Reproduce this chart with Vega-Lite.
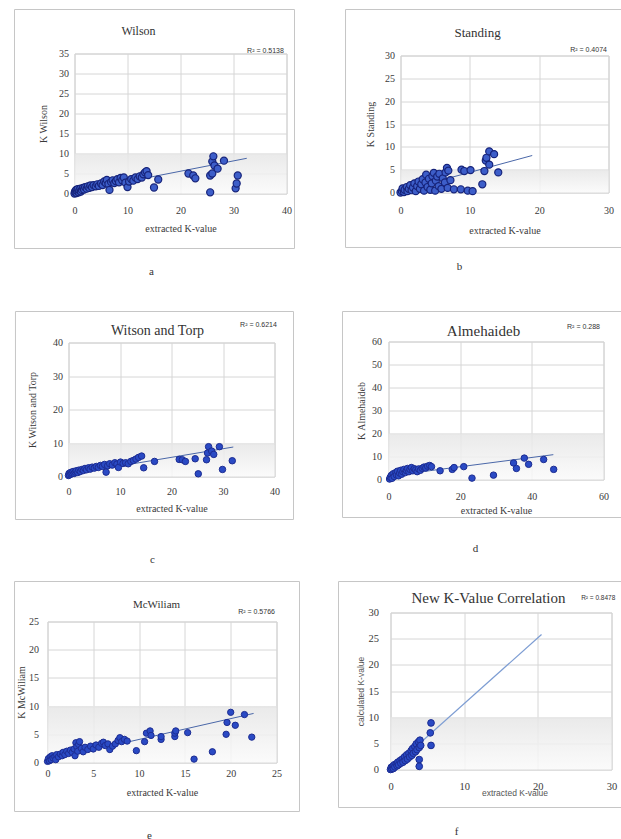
{
"$schema": "https://vega.github.io/schema/vega-lite/v6.json",
"padding": {"left": 12.5, "top": 7.5, "right": 0, "bottom": 0},
"background": "white",
"config": {
 "font": "Liberation Serif",
 "view": {"stroke": "#cfcfcf"},
 "axis": {"grid": true, "gridColor": "#d6d6d6", "gridWidth": 1, "domain": false, "ticks": false, "labelOverlap": false, "labelFont": "Liberation Serif", "labelFontSize": 10, "labelColor": "#3a3a3a", "labelFlush": false, "titleFont": "Liberation Serif", "titleFontSize": 10, "titleFontWeight": "normal", "titleColor": "#3a3a3a"}
},
"datasets": {
 "pa": [{"x":0,"y":0},{"x":0.1,"y":0.5},{"x":0.2,"y":0.2},{"x":0.3,"y":0.9},{"x":0.4,"y":0.1},{"x":0.5,"y":0.6},{"x":0.6,"y":1.1},{"x":0.8,"y":0.3},{"x":0.9,"y":0.8},{"x":1.1,"y":1.2},{"x":1.2,"y":0.5},{"x":1.4,"y":0.9},{"x":1.6,"y":1.4},{"x":1.8,"y":1.0},{"x":2.0,"y":1.6},{"x":2.3,"y":1.2},{"x":2.5,"y":1.8},{"x":2.8,"y":1.4},{"x":3.0,"y":2.0},{"x":3.3,"y":1.6},{"x":3.6,"y":2.1},{"x":4.0,"y":1.8},{"x":4.3,"y":2.3},{"x":4.6,"y":1.9},{"x":5.0,"y":2.5},{"x":5.3,"y":2.1},{"x":5.6,"y":3.0},{"x":5.9,"y":2.6},{"x":6.1,"y":3.4},{"x":6.4,"y":2.4},{"x":6.6,"y":0.9},{"x":6.9,"y":2.9},{"x":7.2,"y":3.3},{"x":7.5,"y":2.6},{"x":7.8,"y":3.1},{"x":8.1,"y":3.6},{"x":8.4,"y":2.8},{"x":8.7,"y":3.9},{"x":9.0,"y":3.3},{"x":9.3,"y":4.0},{"x":9.6,"y":2.7},{"x":10.0,"y":1.6},{"x":10.3,"y":3.0},{"x":10.7,"y":3.6},{"x":11.1,"y":3.2},{"x":11.5,"y":4.0},{"x":11.9,"y":3.6},{"x":12.3,"y":4.3},{"x":12.7,"y":4.0},{"x":13.0,"y":4.8},{"x":13.3,"y":5.3},{"x":13.6,"y":5.6},{"x":13.9,"y":4.6},{"x":15.0,"y":1.5},{"x":15.8,"y":3.5},{"x":21.5,"y":5.0},{"x":22.4,"y":4.5},{"x":22.8,"y":3.8},{"x":25.6,"y":0.3},{"x":25.6,"y":4.5},{"x":26.0,"y":5.0},{"x":26.0,"y":8.0},{"x":26.2,"y":9.3},{"x":26.4,"y":7.0},{"x":27.0,"y":6.2},{"x":28.2,"y":8.2},{"x":30.4,"y":1.3},{"x":30.6,"y":2.5},{"x":30.8,"y":4.5}],
 "pb": [{"x":0,"y":0},{"x":0.2,"y":0.3},{"x":0.3,"y":0.9},{"x":0.5,"y":0.1},{"x":0.6,"y":0.6},{"x":0.9,"y":1.2},{"x":1.0,"y":0.3},{"x":1.2,"y":0.8},{"x":1.4,"y":1.6},{"x":1.6,"y":0.5},{"x":1.8,"y":1.1},{"x":2.0,"y":2.0},{"x":2.2,"y":0.3},{"x":2.4,"y":1.4},{"x":2.6,"y":2.4},{"x":2.8,"y":0.8},{"x":3.0,"y":1.8},{"x":3.2,"y":2.9},{"x":3.4,"y":0.4},{"x":3.6,"y":2.2},{"x":3.7,"y":3.9},{"x":3.9,"y":1.2},{"x":4.1,"y":3.0},{"x":4.3,"y":0.6},{"x":4.5,"y":2.0},{"x":4.6,"y":3.6},{"x":4.8,"y":4.3},{"x":5.0,"y":0.4},{"x":5.1,"y":2.6},{"x":5.3,"y":3.5},{"x":5.5,"y":1.4},{"x":5.6,"y":4.1},{"x":5.9,"y":0.8},{"x":6.1,"y":3.1},{"x":6.4,"y":2.2},{"x":6.5,"y":4.4},{"x":6.7,"y":5.4},{"x":6.8,"y":1.0},{"x":6.9,"y":4.8},{"x":7.2,"y":2.7},{"x":7.7,"y":0.7},{"x":8.7,"y":0.7},{"x":8.8,"y":5.0},{"x":9.2,"y":4.7},{"x":9.7,"y":0.4},{"x":10.1,"y":4.9},{"x":10.4,"y":0.3},{"x":11.8,"y":1.8},{"x":12.1,"y":4.7},{"x":12.3,"y":7.0},{"x":12.4,"y":7.6},{"x":12.8,"y":6.1},{"x":12.8,"y":9.0},{"x":13.5,"y":8.4},{"x":14.1,"y":4.4}],
 "pc": [{"x":0,"y":0.3},{"x":0.1,"y":0.9},{"x":0.2,"y":0.5},{"x":0.4,"y":1.2},{"x":0.5,"y":0.7},{"x":0.7,"y":1.0},{"x":0.9,"y":1.5},{"x":1.1,"y":0.9},{"x":1.3,"y":1.3},{"x":1.5,"y":1.7},{"x":1.8,"y":1.2},{"x":2.0,"y":1.9},{"x":2.3,"y":1.5},{"x":2.6,"y":2.1},{"x":2.9,"y":1.8},{"x":3.2,"y":2.4},{"x":3.5,"y":2.0},{"x":3.9,"y":2.6},{"x":4.2,"y":2.2},{"x":4.6,"y":2.8},{"x":5.0,"y":2.5},{"x":5.4,"y":3.0},{"x":5.8,"y":2.7},{"x":6.2,"y":3.3},{"x":6.6,"y":3.0},{"x":7.0,"y":3.6},{"x":7.3,"y":1.3},{"x":7.6,"y":3.2},{"x":8.0,"y":3.8},{"x":8.5,"y":3.4},{"x":9.0,"y":4.1},{"x":9.4,"y":3.7},{"x":9.7,"y":2.7},{"x":10.1,"y":4.3},{"x":10.6,"y":3.9},{"x":11.1,"y":4.1},{"x":11.6,"y":3.8},{"x":12.1,"y":4.5},{"x":12.6,"y":4.8},{"x":13.1,"y":5.2},{"x":13.6,"y":5.7},{"x":14.2,"y":6.1},{"x":14.6,"y":2.6},{"x":16.7,"y":4.5},{"x":21.5,"y":5.1},{"x":22.1,"y":5.0},{"x":22.7,"y":4.5},{"x":24.6,"y":5.3},{"x":25.2,"y":0.8},{"x":26.8,"y":5.0},{"x":27.0,"y":7.0},{"x":27.2,"y":8.9},{"x":27.8,"y":7.6},{"x":28.2,"y":6.6},{"x":29.3,"y":8.9},{"x":29.9,"y":2.1},{"x":31.8,"y":4.7}],
 "pd": [{"x":0.3,"y":0.2},{"x":0.5,"y":1.0},{"x":0.8,"y":1.8},{"x":1.0,"y":0.5},{"x":1.3,"y":2.5},{"x":1.6,"y":1.3},{"x":2.0,"y":3.0},{"x":2.2,"y":2.0},{"x":2.5,"y":3.6},{"x":2.8,"y":1.6},{"x":3.1,"y":2.8},{"x":3.4,"y":4.0},{"x":3.7,"y":2.3},{"x":4.0,"y":3.4},{"x":4.3,"y":4.4},{"x":4.7,"y":3.0},{"x":5.0,"y":3.9},{"x":5.3,"y":4.8},{"x":5.7,"y":3.4},{"x":6.0,"y":4.4},{"x":6.4,"y":5.2},{"x":6.8,"y":3.8},{"x":7.2,"y":4.7},{"x":7.6,"y":4.2},{"x":8.0,"y":3.4},{"x":8.4,"y":4.6},{"x":8.9,"y":4.0},{"x":9.4,"y":4.9},{"x":9.9,"y":5.4},{"x":10.4,"y":5.0},{"x":10.9,"y":5.8},{"x":11.5,"y":6.1},{"x":12.0,"y":5.6},{"x":14.4,"y":3.8},{"x":17.8,"y":4.4},{"x":18.3,"y":5.2},{"x":21.0,"y":5.6},{"x":23.3,"y":0.6},{"x":29.3,"y":1.9},{"x":34.9,"y":7.2},{"x":35.7,"y":4.8},{"x":37.9,"y":9.3},{"x":39.1,"y":6.6},{"x":43.3,"y":8.7},{"x":46.1,"y":4.4}],
 "pe": [{"x":0,"y":0.2},{"x":0.1,"y":0.7},{"x":0.2,"y":0.3},{"x":0.3,"y":1.0},{"x":0.4,"y":0.5},{"x":0.5,"y":1.2},{"x":0.6,"y":0.8},{"x":0.8,"y":1.0},{"x":0.9,"y":0.5},{"x":1.0,"y":1.4},{"x":1.2,"y":1.0},{"x":1.4,"y":1.5},{"x":1.6,"y":1.2},{"x":1.7,"y":1.8},{"x":1.9,"y":1.4},{"x":2.1,"y":2.0},{"x":2.3,"y":1.6},{"x":2.5,"y":2.2},{"x":2.7,"y":1.8},{"x":2.9,"y":2.4},{"x":3.0,"y":1.2},{"x":3.1,"y":3.5},{"x":3.2,"y":2.8},{"x":3.3,"y":2.0},{"x":3.4,"y":3.2},{"x":3.5,"y":3.7},{"x":3.7,"y":2.5},{"x":3.9,"y":1.9},{"x":4.1,"y":2.7},{"x":4.4,"y":2.3},{"x":4.7,"y":2.9},{"x":5.0,"y":2.4},{"x":5.3,"y":3.1},{"x":5.6,"y":2.7},{"x":5.9,"y":3.4},{"x":6.1,"y":3.6},{"x":6.3,"y":3.0},{"x":6.6,"y":3.3},{"x":6.8,"y":2.3},{"x":7.1,"y":2.9},{"x":7.4,"y":3.3},{"x":7.7,"y":3.9},{"x":7.9,"y":4.4},{"x":8.1,"y":3.7},{"x":8.4,"y":4.1},{"x":8.7,"y":3.8},{"x":9.7,"y":2.1},{"x":10.6,"y":3.7},{"x":10.8,"y":5.2},{"x":11.2,"y":5.6},{"x":11.3,"y":4.8},{"x":12.4,"y":4.1},{"x":12.4,"y":4.6},{"x":13.9,"y":4.6},{"x":13.9,"y":5.2},{"x":14.0,"y":5.6},{"x":15.3,"y":5.3},{"x":16.0,"y":0.6},{"x":18.0,"y":1.9},{"x":19.5,"y":5.0},{"x":19.6,"y":7.1},{"x":20.0,"y":8.9},{"x":20.5,"y":6.6},{"x":21.5,"y":8.5},{"x":22.3,"y":4.5}],
 "pf": [{"x":0,"y":0},{"x":0.1,"y":0.4},{"x":0.2,"y":0.1},{"x":0.3,"y":0.6},{"x":0.4,"y":0.2},{"x":0.5,"y":0.9},{"x":0.6,"y":0.5},{"x":0.8,"y":1.1},{"x":0.9,"y":0.7},{"x":1.0,"y":1.4},{"x":1.1,"y":0.9},{"x":1.3,"y":1.7},{"x":1.4,"y":1.2},{"x":1.6,"y":2.0},{"x":1.7,"y":1.4},{"x":1.9,"y":2.4},{"x":2.0,"y":1.7},{"x":2.2,"y":2.8},{"x":2.3,"y":2.0},{"x":2.5,"y":3.1},{"x":2.6,"y":2.4},{"x":2.8,"y":3.6},{"x":2.9,"y":2.7},{"x":3.0,"y":4.0},{"x":3.1,"y":3.1},{"x":3.3,"y":4.4},{"x":3.4,"y":3.4},{"x":3.5,"y":4.9},{"x":3.6,"y":3.8},{"x":3.8,"y":5.3},{"x":3.9,"y":4.2},{"x":4.0,"y":5.6},{"x":4.1,"y":4.6},{"x":3.9,"y":1.9},{"x":3.9,"y":0.6},{"x":5.5,"y":4.6},{"x":5.4,"y":7.0},{"x":5.5,"y":8.9}],
 "ta": [{"x":0,"y":0.4},{"x":32.5,"y":8.8}],
 "tb": [{"x":0,"y":0.3},{"x":19,"y":8.1}],
 "tc": [{"x":0,"y":0.6},{"x":32,"y":8.8}],
 "td": [{"x":0,"y":1.5},{"x":46,"y":10.8}],
 "te": [{"x":0,"y":0.4},{"x":22.5,"y":8.7}],
 "tf": [{"x":0,"y":0},{"x":20.5,"y":25.8}],
 "none": []
},
"spacing": 32,
"vconcat": [
{"spacing": 47, "hconcat": [
 {"spacing": 0, "hconcat": [
  {"width": 1, "height": 1, "view": {"stroke": null}, "data": {"name": "none"}, "mark": "rect"},
  {"spacing": 0, "vconcat": [
   {"width": 1, "height": 1, "view": {"stroke": null}, "data": {"name": "none"}, "mark": "rect"},
   {"width": 212, "height": 140, "layer": [
    {"data": {"values": [{}]}, "mark": {"type": "rect", "opacity": 0.85, "fill": {"gradient": "linear", "x1": 0, "y1": 0, "x2": 0, "y2": 1, "stops": [{"offset": 0, "color": "#e6e6e6"}, {"offset": 1, "color": "#fafafa"}]}},
     "encoding": {"x": {"datum": 0, "type": "quantitative", "scale": {"domain": [0,40], "nice": false}, "axis": {"values": [0,10,20,30,40], "title": "extracted K-value", "labelPadding": 12, "titlePadding": 8}}, "x2": {"datum": 40},
                  "y": {"datum": 0, "type": "quantitative", "scale": {"domain": [0,35], "nice": false}, "axis": {"values": [0,5,10,15,20,25,30,35], "title": "K Wilson", "labelPadding": 6, "titlePadding": 10}}, "y2": {"datum": 10}}},
    {"data": {"values": [{}]}, "mark": {"type": "rect", "filled": false, "stroke": "#c6c6c6", "strokeWidth": 1},
     "encoding": {"x": {"datum": -11.32, "type": "quantitative", "scale": {"domain": [0,40], "nice": false}, "axis": {"values": [0,10,20,30,40], "title": "extracted K-value", "labelPadding": 12, "titlePadding": 8}}, "x2": {"datum": 41.51},
                  "y": {"datum": 46, "type": "quantitative", "scale": {"domain": [0,35], "nice": false}, "axis": {"values": [0,5,10,15,20,25,30,35], "title": "K Wilson", "labelPadding": 6, "titlePadding": 10}}, "y2": {"datum": -13.75}}},
    {"data": {"name": "ta"}, "mark": {"type": "line", "color": "#4a67a8", "strokeWidth": 1},
     "encoding": {"x": {"field": "x", "type": "quantitative", "scale": {"domain": [0,40], "nice": false}, "axis": {"values": [0,10,20,30,40], "title": "extracted K-value", "labelPadding": 12, "titlePadding": 8}},
                  "y": {"field": "y", "type": "quantitative", "scale": {"domain": [0,35], "nice": false}, "axis": {"values": [0,5,10,15,20,25,30,35], "title": "K Wilson", "labelPadding": 6, "titlePadding": 10}}}},
    {"data": {"name": "pa"}, "mark": {"type": "circle", "size": 50, "opacity": 1, "fill": "#3d5ec9", "stroke": "#16237a", "strokeWidth": 1.2},
     "encoding": {"x": {"field": "x", "type": "quantitative", "scale": {"domain": [0,40], "nice": false}, "axis": {"values": [0,10,20,30,40], "title": "extracted K-value", "labelPadding": 12, "titlePadding": 8}},
                  "y": {"field": "y", "type": "quantitative", "scale": {"domain": [0,35], "nice": false}, "axis": {"values": [0,5,10,15,20,25,30,35], "title": "K Wilson", "labelPadding": 6, "titlePadding": 10}}}},
    {"data": {"values": [{}]}, "mark": {"type": "text", "text": "Wilson", "font": "Liberation Serif", "fontSize": 12, "color": "#333333", "baseline": "middle", "align": "center"},
     "encoding": {"x": {"datum": 12.08, "type": "quantitative", "scale": {"domain": [0,40], "nice": false}, "axis": {"values": [0,10,20,30,40], "title": "extracted K-value", "labelPadding": 12, "titlePadding": 8}},
                  "y": {"datum": 40.75, "type": "quantitative", "scale": {"domain": [0,35], "nice": false}, "axis": {"values": [0,5,10,15,20,25,30,35], "title": "K Wilson", "labelPadding": 6, "titlePadding": 10}}}},
    {"data": {"values": [{}]}, "mark": {"type": "text", "text": "R² = 0.5138", "font": "Liberation Sans", "fontSize": 7, "color": "#333333", "baseline": "middle", "align": "center"},
     "encoding": {"x": {"datum": 36.04, "type": "quantitative", "scale": {"domain": [0,40], "nice": false}, "axis": {"values": [0,10,20,30,40], "title": "extracted K-value", "labelPadding": 12, "titlePadding": 8}},
                  "y": {"datum": 35.75, "type": "quantitative", "scale": {"domain": [0,35], "nice": false}, "axis": {"values": [0,5,10,15,20,25,30,35], "title": "K Wilson", "labelPadding": 6, "titlePadding": 10}}}},
    {"data": {"values": [{}]}, "mark": {"type": "text", "text": "a", "font": "Liberation Serif", "fontSize": 11, "color": "#333333", "baseline": "middle", "align": "center"},
     "encoding": {"x": {"datum": 14.53, "type": "quantitative", "scale": {"domain": [0,40], "nice": false}, "axis": {"values": [0,10,20,30,40], "title": "extracted K-value", "labelPadding": 12, "titlePadding": 8}},
                  "y": {"datum": -19.5, "type": "quantitative", "scale": {"domain": [0,35], "nice": false}, "axis": {"values": [0,5,10,15,20,25,30,35], "title": "K Wilson", "labelPadding": 6, "titlePadding": 10}}}}
   ]}
  ]}
 ]},
 {"spacing": 0, "hconcat": [
  {"width": 1, "height": 1, "view": {"stroke": null}, "data": {"name": "none"}, "mark": "rect"},
  {"spacing": 0, "vconcat": [
   {"width": 1, "height": 1, "view": {"stroke": null}, "data": {"name": "none"}, "mark": "rect"},
   {"width": 208, "height": 137, "layer": [
    {"data": {"values": [{}]}, "mark": {"type": "rect", "opacity": 0.85, "fill": {"gradient": "linear", "x1": 0, "y1": 0, "x2": 0, "y2": 1, "stops": [{"offset": 0, "color": "#e6e6e6"}, {"offset": 1, "color": "#fafafa"}]}},
     "encoding": {"x": {"datum": 0, "type": "quantitative", "scale": {"domain": [0,30], "nice": false}, "axis": {"values": [0,10,20,30], "title": "extracted K-value", "labelPadding": 13, "titlePadding": 10}}, "x2": {"datum": 30},
                  "y": {"datum": 0, "type": "quantitative", "scale": {"domain": [0,30], "nice": false}, "axis": {"values": [0,5,10,15,20,25,30], "title": "K Standing", "labelPadding": 6, "titlePadding": 9}}, "y2": {"datum": 5}}},
    {"data": {"values": [{}]}, "mark": {"type": "rect", "filled": false, "stroke": "#c6c6c6", "strokeWidth": 1},
     "encoding": {"x": {"datum": -7.93, "type": "quantitative", "scale": {"domain": [0,30], "nice": false}, "axis": {"values": [0,10,20,30], "title": "extracted K-value", "labelPadding": 13, "titlePadding": 10}}, "x2": {"datum": 32.02},
                  "y": {"datum": 40.07, "type": "quantitative", "scale": {"domain": [0,30], "nice": false}, "axis": {"values": [0,5,10,15,20,25,30], "title": "K Standing", "labelPadding": 6, "titlePadding": 9}}, "y2": {"datum": -12.04}}},
    {"data": {"name": "tb"}, "mark": {"type": "line", "color": "#4a67a8", "strokeWidth": 1},
     "encoding": {"x": {"field": "x", "type": "quantitative", "scale": {"domain": [0,30], "nice": false}, "axis": {"values": [0,10,20,30], "title": "extracted K-value", "labelPadding": 13, "titlePadding": 10}},
                  "y": {"field": "y", "type": "quantitative", "scale": {"domain": [0,30], "nice": false}, "axis": {"values": [0,5,10,15,20,25,30], "title": "K Standing", "labelPadding": 6, "titlePadding": 9}}}},
    {"data": {"name": "pb"}, "mark": {"type": "circle", "size": 50, "opacity": 1, "fill": "#3d5ec9", "stroke": "#16237a", "strokeWidth": 1.2},
     "encoding": {"x": {"field": "x", "type": "quantitative", "scale": {"domain": [0,30], "nice": false}, "axis": {"values": [0,10,20,30], "title": "extracted K-value", "labelPadding": 13, "titlePadding": 10}},
                  "y": {"field": "y", "type": "quantitative", "scale": {"domain": [0,30], "nice": false}, "axis": {"values": [0,5,10,15,20,25,30], "title": "K Standing", "labelPadding": 6, "titlePadding": 9}}}},
    {"data": {"values": [{}]}, "mark": {"type": "text", "text": "Standing", "font": "Liberation Serif", "fontSize": 13, "color": "#333333", "baseline": "middle", "align": "center"},
     "encoding": {"x": {"datum": 11.11, "type": "quantitative", "scale": {"domain": [0,30], "nice": false}, "axis": {"values": [0,10,20,30], "title": "extracted K-value", "labelPadding": 13, "titlePadding": 10}},
                  "y": {"datum": 35.03, "type": "quantitative", "scale": {"domain": [0,30], "nice": false}, "axis": {"values": [0,5,10,15,20,25,30], "title": "K Standing", "labelPadding": 6, "titlePadding": 9}}}},
    {"data": {"values": [{}]}, "mark": {"type": "text", "text": "R² = 0.4074", "font": "Liberation Sans", "fontSize": 7, "color": "#333333", "baseline": "middle", "align": "center"},
     "encoding": {"x": {"datum": 27.12, "type": "quantitative", "scale": {"domain": [0,30], "nice": false}, "axis": {"values": [0,10,20,30], "title": "extracted K-value", "labelPadding": 13, "titlePadding": 10}},
                  "y": {"datum": 31.31, "type": "quantitative", "scale": {"domain": [0,30], "nice": false}, "axis": {"values": [0,5,10,15,20,25,30], "title": "K Standing", "labelPadding": 6, "titlePadding": 9}}}},
    {"data": {"values": [{}]}, "mark": {"type": "text", "text": "b", "font": "Liberation Serif", "fontSize": 11, "color": "#333333", "baseline": "middle", "align": "center"},
     "encoding": {"x": {"datum": 8.51, "type": "quantitative", "scale": {"domain": [0,30], "nice": false}, "axis": {"values": [0,10,20,30], "title": "extracted K-value", "labelPadding": 13, "titlePadding": 10}},
                  "y": {"datum": -16.42, "type": "quantitative", "scale": {"domain": [0,30], "nice": false}, "axis": {"values": [0,5,10,15,20,25,30], "title": "K Standing", "labelPadding": 6, "titlePadding": 9}}}}
   ]}
  ]}
 ]}
]},
{"spacing": 14, "vconcat": [
{"spacing": 44, "hconcat": [
 {"spacing": 0, "hconcat": [
  {"width": 1, "height": 1, "view": {"stroke": null}, "data": {"name": "none"}, "mark": "rect"},
  {"spacing": 0, "vconcat": [
   {"width": 1, "height": 1, "view": {"stroke": null}, "data": {"name": "none"}, "mark": "rect"},
   {"width": 206, "height": 134, "layer": [
    {"data": {"values": [{}]}, "mark": {"type": "rect", "opacity": 0.85, "fill": {"gradient": "linear", "x1": 0, "y1": 0, "x2": 0, "y2": 1, "stops": [{"offset": 0, "color": "#e6e6e6"}, {"offset": 1, "color": "#fafafa"}]}},
     "encoding": {"x": {"datum": 0, "type": "quantitative", "scale": {"domain": [0,40], "nice": false}, "axis": {"values": [0,10,20,30,40], "title": "extracted K-value", "labelPadding": 10, "titlePadding": 7}}, "x2": {"datum": 40},
                  "y": {"datum": 0, "type": "quantitative", "scale": {"domain": [0,40], "nice": false}, "axis": {"values": [0,10,20,30,40], "title": "K Witson and Torp", "labelPadding": 6, "titlePadding": 15}}, "y2": {"datum": 10}}},
    {"data": {"values": [{}]}, "mark": {"type": "rect", "filled": false, "stroke": "#c6c6c6", "strokeWidth": 1},
     "encoding": {"x": {"datum": -10.3, "type": "quantitative", "scale": {"domain": [0,40], "nice": false}, "axis": {"values": [0,10,20,30,40], "title": "extracted K-value", "labelPadding": 10, "titlePadding": 7}}, "x2": {"datum": 43.69},
                  "y": {"datum": 49.25, "type": "quantitative", "scale": {"domain": [0,40], "nice": false}, "axis": {"values": [0,10,20,30,40], "title": "K Witson and Torp", "labelPadding": 6, "titlePadding": 15}}, "y2": {"datum": -12.84}}},
    {"data": {"name": "tc"}, "mark": {"type": "line", "color": "#4a67a8", "strokeWidth": 1},
     "encoding": {"x": {"field": "x", "type": "quantitative", "scale": {"domain": [0,40], "nice": false}, "axis": {"values": [0,10,20,30,40], "title": "extracted K-value", "labelPadding": 10, "titlePadding": 7}},
                  "y": {"field": "y", "type": "quantitative", "scale": {"domain": [0,40], "nice": false}, "axis": {"values": [0,10,20,30,40], "title": "K Witson and Torp", "labelPadding": 6, "titlePadding": 15}}}},
    {"data": {"name": "pc"}, "mark": {"type": "circle", "size": 42, "opacity": 1, "fill": "#2a4ac4", "stroke": "#1c2c92", "strokeWidth": 1},
     "encoding": {"x": {"field": "x", "type": "quantitative", "scale": {"domain": [0,40], "nice": false}, "axis": {"values": [0,10,20,30,40], "title": "extracted K-value", "labelPadding": 10, "titlePadding": 7}},
                  "y": {"field": "y", "type": "quantitative", "scale": {"domain": [0,40], "nice": false}, "axis": {"values": [0,10,20,30,40], "title": "K Witson and Torp", "labelPadding": 6, "titlePadding": 15}}}},
    {"data": {"values": [{}]}, "mark": {"type": "text", "text": "Witson  and Torp", "font": "Liberation Serif", "fontSize": 14, "color": "#333333", "baseline": "middle", "align": "center"},
     "encoding": {"x": {"datum": 17.28, "type": "quantitative", "scale": {"domain": [0,40], "nice": false}, "axis": {"values": [0,10,20,30,40], "title": "extracted K-value", "labelPadding": 10, "titlePadding": 7}},
                  "y": {"datum": 43.58, "type": "quantitative", "scale": {"domain": [0,40], "nice": false}, "axis": {"values": [0,10,20,30,40], "title": "K Witson and Torp", "labelPadding": 6, "titlePadding": 15}}}},
    {"data": {"values": [{}]}, "mark": {"type": "text", "text": "R² = 0.6214", "font": "Liberation Sans", "fontSize": 7, "color": "#333333", "baseline": "middle", "align": "center"},
     "encoding": {"x": {"datum": 36.89, "type": "quantitative", "scale": {"domain": [0,40], "nice": false}, "axis": {"values": [0,10,20,30,40], "title": "extracted K-value", "labelPadding": 10, "titlePadding": 7}},
                  "y": {"datum": 45.37, "type": "quantitative", "scale": {"domain": [0,40], "nice": false}, "axis": {"values": [0,10,20,30,40], "title": "K Witson and Torp", "labelPadding": 6, "titlePadding": 15}}}},
    {"data": {"values": [{}]}, "mark": {"type": "text", "text": "c", "font": "Liberation Serif", "fontSize": 11, "color": "#333333", "baseline": "middle", "align": "center"},
     "encoding": {"x": {"datum": 16.31, "type": "quantitative", "scale": {"domain": [0,40], "nice": false}, "axis": {"values": [0,10,20,30,40], "title": "extracted K-value", "labelPadding": 10, "titlePadding": 7}},
                  "y": {"datum": -24.78, "type": "quantitative", "scale": {"domain": [0,40], "nice": false}, "axis": {"values": [0,10,20,30,40], "title": "K Witson and Torp", "labelPadding": 6, "titlePadding": 15}}}}
   ]}
  ]}
 ]},
 {"spacing": 0, "hconcat": [
  {"width": 1, "height": 1, "view": {"stroke": null}, "data": {"name": "none"}, "mark": "rect"},
  {"spacing": 0, "vconcat": [
   {"width": 1, "height": 1, "view": {"stroke": null}, "data": {"name": "none"}, "mark": "rect"},
   {"width": 215, "height": 138, "layer": [
    {"data": {"values": [{}]}, "mark": {"type": "rect", "opacity": 0.85, "fill": {"gradient": "linear", "x1": 0, "y1": 0, "x2": 0, "y2": 1, "stops": [{"offset": 0, "color": "#e6e6e6"}, {"offset": 1, "color": "#fafafa"}]}},
     "encoding": {"x": {"datum": 0, "type": "quantitative", "scale": {"domain": [0,60], "nice": false}, "axis": {"values": [0,20,40,60], "title": "extracted K-value", "labelPadding": 12, "titlePadding": 4}}, "x2": {"datum": 60},
                  "y": {"datum": 0, "type": "quantitative", "scale": {"domain": [0,60], "nice": false}, "axis": {"values": [0,10,20,30,40,50,60], "title": "K Almehaideb", "labelPadding": 7, "titlePadding": 5}}, "y2": {"datum": 20}}},
    {"data": {"values": [{}]}, "mark": {"type": "rect", "filled": false, "stroke": "#c6c6c6", "strokeWidth": 1},
     "encoding": {"x": {"datum": -12.84, "type": "quantitative", "scale": {"domain": [0,60], "nice": false}, "axis": {"values": [0,20,40,60], "title": "extracted K-value", "labelPadding": 12, "titlePadding": 4}}, "x2": {"datum": 65.02},
                  "y": {"datum": 73.04, "type": "quantitative", "scale": {"domain": [0,60], "nice": false}, "axis": {"values": [0,10,20,30,40,50,60], "title": "K Almehaideb", "labelPadding": 7, "titlePadding": 5}}, "y2": {"datum": -16.52}}},
    {"data": {"name": "td"}, "mark": {"type": "line", "color": "#4a67a8", "strokeWidth": 1},
     "encoding": {"x": {"field": "x", "type": "quantitative", "scale": {"domain": [0,60], "nice": false}, "axis": {"values": [0,20,40,60], "title": "extracted K-value", "labelPadding": 12, "titlePadding": 4}},
                  "y": {"field": "y", "type": "quantitative", "scale": {"domain": [0,60], "nice": false}, "axis": {"values": [0,10,20,30,40,50,60], "title": "K Almehaideb", "labelPadding": 7, "titlePadding": 5}}}},
    {"data": {"name": "pd"}, "mark": {"type": "circle", "size": 42, "opacity": 1, "fill": "#2a4ac4", "stroke": "#1c2c92", "strokeWidth": 1},
     "encoding": {"x": {"field": "x", "type": "quantitative", "scale": {"domain": [0,60], "nice": false}, "axis": {"values": [0,20,40,60], "title": "extracted K-value", "labelPadding": 12, "titlePadding": 4}},
                  "y": {"field": "y", "type": "quantitative", "scale": {"domain": [0,60], "nice": false}, "axis": {"values": [0,10,20,30,40,50,60], "title": "K Almehaideb", "labelPadding": 7, "titlePadding": 5}}}},
    {"data": {"values": [{}]}, "mark": {"type": "text", "text": "Almehaideb", "font": "Liberation Serif", "fontSize": 15, "color": "#333333", "baseline": "middle", "align": "center"},
     "encoding": {"x": {"datum": 26.51, "type": "quantitative", "scale": {"domain": [0,60], "nice": false}, "axis": {"values": [0,20,40,60], "title": "extracted K-value", "labelPadding": 12, "titlePadding": 4}},
                  "y": {"datum": 64.35, "type": "quantitative", "scale": {"domain": [0,60], "nice": false}, "axis": {"values": [0,10,20,30,40,50,60], "title": "K Almehaideb", "labelPadding": 7, "titlePadding": 5}}}},
    {"data": {"values": [{}]}, "mark": {"type": "text", "text": "R² = 0.288", "font": "Liberation Sans", "fontSize": 7, "color": "#333333", "baseline": "middle", "align": "center"},
     "encoding": {"x": {"datum": 54.42, "type": "quantitative", "scale": {"domain": [0,60], "nice": false}, "axis": {"values": [0,20,40,60], "title": "extracted K-value", "labelPadding": 12, "titlePadding": 4}},
                  "y": {"datum": 66.09, "type": "quantitative", "scale": {"domain": [0,60], "nice": false}, "axis": {"values": [0,10,20,30,40,50,60], "title": "K Almehaideb", "labelPadding": 7, "titlePadding": 5}}}},
    {"data": {"values": [{}]}, "mark": {"type": "text", "text": "d", "font": "Liberation Serif", "fontSize": 11, "color": "#333333", "baseline": "middle", "align": "center"},
     "encoding": {"x": {"datum": 24.28, "type": "quantitative", "scale": {"domain": [0,60], "nice": false}, "axis": {"values": [0,20,40,60], "title": "extracted K-value", "labelPadding": 12, "titlePadding": 4}},
                  "y": {"datum": -30.43, "type": "quantitative", "scale": {"domain": [0,60], "nice": false}, "axis": {"values": [0,10,20,30,40,50,60], "title": "K Almehaideb", "labelPadding": 7, "titlePadding": 5}}}}
   ]}
  ]}
 ]}
]},
{"spacing": 35, "hconcat": [
 {"spacing": 0, "hconcat": [
  {"width": 1, "height": 1, "view": {"stroke": null}, "data": {"name": "none"}, "mark": "rect"},
  {"spacing": 0, "vconcat": [
   {"width": 1, "height": 1, "view": {"stroke": null}, "data": {"name": "none"}, "mark": "rect"},
   {"width": 229, "height": 141, "layer": [
    {"data": {"values": [{}]}, "mark": {"type": "rect", "opacity": 0.85, "fill": {"gradient": "linear", "x1": 0, "y1": 0, "x2": 0, "y2": 1, "stops": [{"offset": 0, "color": "#e6e6e6"}, {"offset": 1, "color": "#fafafa"}]}},
     "encoding": {"x": {"datum": 0, "type": "quantitative", "scale": {"domain": [0,25], "nice": false}, "axis": {"values": [0,5,10,15,20,25], "title": "extracted K-value", "labelPadding": 6, "titlePadding": 9}}, "x2": {"datum": 25},
                  "y": {"datum": 0, "type": "quantitative", "scale": {"domain": [0,25], "nice": false}, "axis": {"values": [0,5,10,15,20,25], "title": "K McWiliam", "labelPadding": 9, "titlePadding": 2}}, "y2": {"datum": 10}}},
    {"data": {"values": [{}]}, "mark": {"type": "rect", "filled": false, "stroke": "#c6c6c6", "strokeWidth": 1},
     "encoding": {"x": {"datum": -3.6, "type": "quantitative", "scale": {"domain": [0,25], "nice": false}, "axis": {"values": [0,5,10,15,20,25], "title": "extracted K-value", "labelPadding": 6, "titlePadding": 9}}, "x2": {"datum": 27.51},
                  "y": {"datum": 32.09, "type": "quantitative", "scale": {"domain": [0,25], "nice": false}, "axis": {"values": [0,5,10,15,20,25], "title": "K McWiliam", "labelPadding": 9, "titlePadding": 2}}, "y2": {"datum": -8.69}}},
    {"data": {"name": "te"}, "mark": {"type": "line", "color": "#4a67a8", "strokeWidth": 1},
     "encoding": {"x": {"field": "x", "type": "quantitative", "scale": {"domain": [0,25], "nice": false}, "axis": {"values": [0,5,10,15,20,25], "title": "extracted K-value", "labelPadding": 6, "titlePadding": 9}},
                  "y": {"field": "y", "type": "quantitative", "scale": {"domain": [0,25], "nice": false}, "axis": {"values": [0,5,10,15,20,25], "title": "K McWiliam", "labelPadding": 9, "titlePadding": 2}}}},
    {"data": {"name": "pe"}, "mark": {"type": "circle", "size": 40, "opacity": 1, "fill": "#2a4ac4", "stroke": "#1c2c92", "strokeWidth": 1},
     "encoding": {"x": {"field": "x", "type": "quantitative", "scale": {"domain": [0,25], "nice": false}, "axis": {"values": [0,5,10,15,20,25], "title": "extracted K-value", "labelPadding": 6, "titlePadding": 9}},
                  "y": {"field": "y", "type": "quantitative", "scale": {"domain": [0,25], "nice": false}, "axis": {"values": [0,5,10,15,20,25], "title": "K McWiliam", "labelPadding": 9, "titlePadding": 2}}}},
    {"data": {"values": [{}]}, "mark": {"type": "text", "text": "McWiliam", "font": "Liberation Serif", "fontSize": 11, "color": "#333333", "baseline": "middle", "align": "center"},
     "encoding": {"x": {"datum": 11.9, "type": "quantitative", "scale": {"domain": [0,25], "nice": false}, "axis": {"values": [0,5,10,15,20,25], "title": "extracted K-value", "labelPadding": 6, "titlePadding": 9}},
                  "y": {"datum": 28.01, "type": "quantitative", "scale": {"domain": [0,25], "nice": false}, "axis": {"values": [0,5,10,15,20,25], "title": "K McWiliam", "labelPadding": 9, "titlePadding": 2}}}},
    {"data": {"values": [{}]}, "mark": {"type": "text", "text": "R² = 0.5766", "font": "Liberation Sans", "fontSize": 7, "color": "#333333", "baseline": "middle", "align": "center"},
     "encoding": {"x": {"datum": 22.82, "type": "quantitative", "scale": {"domain": [0,25], "nice": false}, "axis": {"values": [0,5,10,15,20,25], "title": "extracted K-value", "labelPadding": 6, "titlePadding": 9}},
                  "y": {"datum": 26.6, "type": "quantitative", "scale": {"domain": [0,25], "nice": false}, "axis": {"values": [0,5,10,15,20,25], "title": "K McWiliam", "labelPadding": 9, "titlePadding": 2}}}},
    {"data": {"values": [{}]}, "mark": {"type": "text", "text": "e", "font": "Liberation Serif", "fontSize": 11, "color": "#333333", "baseline": "middle", "align": "center"},
     "encoding": {"x": {"datum": 11.14, "type": "quantitative", "scale": {"domain": [0,25], "nice": false}, "axis": {"values": [0,5,10,15,20,25], "title": "extracted K-value", "labelPadding": 6, "titlePadding": 9}},
                  "y": {"datum": -13.1, "type": "quantitative", "scale": {"domain": [0,25], "nice": false}, "axis": {"values": [0,5,10,15,20,25], "title": "K McWiliam", "labelPadding": 9, "titlePadding": 2}}}}
   ]}
  ]}
 ]},
 {"spacing": 0, "hconcat": [
  {"width": 1, "height": 1, "view": {"stroke": null}, "data": {"name": "none"}, "mark": "rect"},
  {"spacing": 0, "vconcat": [
   {"width": 1, "height": 1, "view": {"stroke": null}, "data": {"name": "none"}, "mark": "rect"},
   {"width": 221, "height": 157, "layer": [
    {"data": {"values": [{}]}, "mark": {"type": "rect", "opacity": 0.85, "fill": {"gradient": "linear", "x1": 0, "y1": 0, "x2": 0, "y2": 1, "stops": [{"offset": 0, "color": "#e6e6e6"}, {"offset": 1, "color": "#fafafa"}]}},
     "encoding": {"x": {"datum": 0, "type": "quantitative", "scale": {"domain": [0,30], "nice": false}, "axis": {"values": [0,10,20,30], "title": "extracted K-value", "labelPadding": 12, "labelFontSize": 10.5, "titleFont": "Liberation Sans", "titleFontSize": 8.5, "titleColor": "#555555", "titleX": 124, "titleY": 23, "titleBaseline": "middle", "titleAlign": "center"}}, "x2": {"datum": 30},
                  "y": {"datum": 0, "type": "quantitative", "scale": {"domain": [0,30], "nice": false}, "axis": {"values": [0,5,10,15,20,25,30], "title": "calculated K-value", "labelPadding": 12, "labelFontSize": 10.5, "titleFont": "Liberation Sans", "titleFontSize": 8.5, "titleColor": "#555555", "titlePadding": 3}}, "y2": {"datum": 10}}},
    {"data": {"values": [{}]}, "mark": {"type": "rect", "filled": false, "stroke": "#c6c6c6", "strokeWidth": 1},
     "encoding": {"x": {"datum": -7.06, "type": "quantitative", "scale": {"domain": [0,30], "nice": false}, "axis": {"values": [0,10,20,30], "title": "extracted K-value", "labelPadding": 12, "labelFontSize": 10.5, "titleFont": "Liberation Sans", "titleFontSize": 8.5, "titleColor": "#555555", "titleX": 124, "titleY": 23, "titleBaseline": "middle", "titleAlign": "center"}}, "x2": {"datum": 31.36},
                  "y": {"datum": 35.92, "type": "quantitative", "scale": {"domain": [0,30], "nice": false}, "axis": {"values": [0,5,10,15,20,25,30], "title": "calculated K-value", "labelPadding": 12, "labelFontSize": 10.5, "titleFont": "Liberation Sans", "titleFontSize": 8.5, "titleColor": "#555555", "titlePadding": 3}}, "y2": {"datum": -7.26}}},
    {"data": {"name": "tf"}, "mark": {"type": "line", "color": "#7d9dd3", "strokeWidth": 1.2},
     "encoding": {"x": {"field": "x", "type": "quantitative", "scale": {"domain": [0,30], "nice": false}, "axis": {"values": [0,10,20,30], "title": "extracted K-value", "labelPadding": 12, "labelFontSize": 10.5, "titleFont": "Liberation Sans", "titleFontSize": 8.5, "titleColor": "#555555", "titleX": 124, "titleY": 23, "titleBaseline": "middle", "titleAlign": "center"}},
                  "y": {"field": "y", "type": "quantitative", "scale": {"domain": [0,30], "nice": false}, "axis": {"values": [0,5,10,15,20,25,30], "title": "calculated K-value", "labelPadding": 12, "labelFontSize": 10.5, "titleFont": "Liberation Sans", "titleFontSize": 8.5, "titleColor": "#555555", "titlePadding": 3}}}},
    {"data": {"name": "pf"}, "mark": {"type": "circle", "size": 45, "opacity": 1, "fill": "#2a4ac4", "stroke": "#1c2c92", "strokeWidth": 1},
     "encoding": {"x": {"field": "x", "type": "quantitative", "scale": {"domain": [0,30], "nice": false}, "axis": {"values": [0,10,20,30], "title": "extracted K-value", "labelPadding": 12, "labelFontSize": 10.5, "titleFont": "Liberation Sans", "titleFontSize": 8.5, "titleColor": "#555555", "titleX": 124, "titleY": 23, "titleBaseline": "middle", "titleAlign": "center"}},
                  "y": {"field": "y", "type": "quantitative", "scale": {"domain": [0,30], "nice": false}, "axis": {"values": [0,5,10,15,20,25,30], "title": "calculated K-value", "labelPadding": 12, "labelFontSize": 10.5, "titleFont": "Liberation Sans", "titleFontSize": 8.5, "titleColor": "#555555", "titlePadding": 3}}}},
    {"data": {"values": [{}]}, "mark": {"type": "text", "text": "New K-Value  Correlation", "font": "Liberation Serif", "fontSize": 15, "color": "#333333", "baseline": "middle", "align": "center"},
     "encoding": {"x": {"datum": 13.3, "type": "quantitative", "scale": {"domain": [0,30], "nice": false}, "axis": {"values": [0,10,20,30], "title": "extracted K-value", "labelPadding": 12, "labelFontSize": 10.5, "titleFont": "Liberation Sans", "titleFontSize": 8.5, "titleColor": "#555555", "titleX": 124, "titleY": 23, "titleBaseline": "middle", "titleAlign": "center"}},
                  "y": {"datum": 32.68, "type": "quantitative", "scale": {"domain": [0,30], "nice": false}, "axis": {"values": [0,5,10,15,20,25,30], "title": "calculated K-value", "labelPadding": 12, "labelFontSize": 10.5, "titleFont": "Liberation Sans", "titleFontSize": 8.5, "titleColor": "#555555", "titlePadding": 3}}}},
    {"data": {"values": [{}]}, "mark": {"type": "text", "text": "R² = 0.8478", "font": "Liberation Sans", "fontSize": 6.5, "color": "#333333", "baseline": "middle", "align": "center"},
     "encoding": {"x": {"datum": 28.2, "type": "quantitative", "scale": {"domain": [0,30], "nice": false}, "axis": {"values": [0,10,20,30], "title": "extracted K-value", "labelPadding": 12, "labelFontSize": 10.5, "titleFont": "Liberation Sans", "titleFontSize": 8.5, "titleColor": "#555555", "titleX": 124, "titleY": 23, "titleBaseline": "middle", "titleAlign": "center"}},
                  "y": {"datum": 32.68, "type": "quantitative", "scale": {"domain": [0,30], "nice": false}, "axis": {"values": [0,5,10,15,20,25,30], "title": "calculated K-value", "labelPadding": 12, "labelFontSize": 10.5, "titleFont": "Liberation Sans", "titleFontSize": 8.5, "titleColor": "#555555", "titlePadding": 3}}}},
    {"data": {"values": [{}]}, "mark": {"type": "text", "text": "f", "font": "Liberation Serif", "fontSize": 11, "color": "#333333", "baseline": "middle", "align": "center"},
     "encoding": {"x": {"datum": 8.96, "type": "quantitative", "scale": {"domain": [0,30], "nice": false}, "axis": {"values": [0,10,20,30], "title": "extracted K-value", "labelPadding": 12, "labelFontSize": 10.5, "titleFont": "Liberation Sans", "titleFontSize": 8.5, "titleColor": "#555555", "titleX": 124, "titleY": 23, "titleBaseline": "middle", "titleAlign": "center"}},
                  "y": {"datum": -11.85, "type": "quantitative", "scale": {"domain": [0,30], "nice": false}, "axis": {"values": [0,5,10,15,20,25,30], "title": "calculated K-value", "labelPadding": 12, "labelFontSize": 10.5, "titleFont": "Liberation Sans", "titleFontSize": 8.5, "titleColor": "#555555", "titlePadding": 3}}}}
   ]}
  ]}
 ]}
]}
]}
]
}
